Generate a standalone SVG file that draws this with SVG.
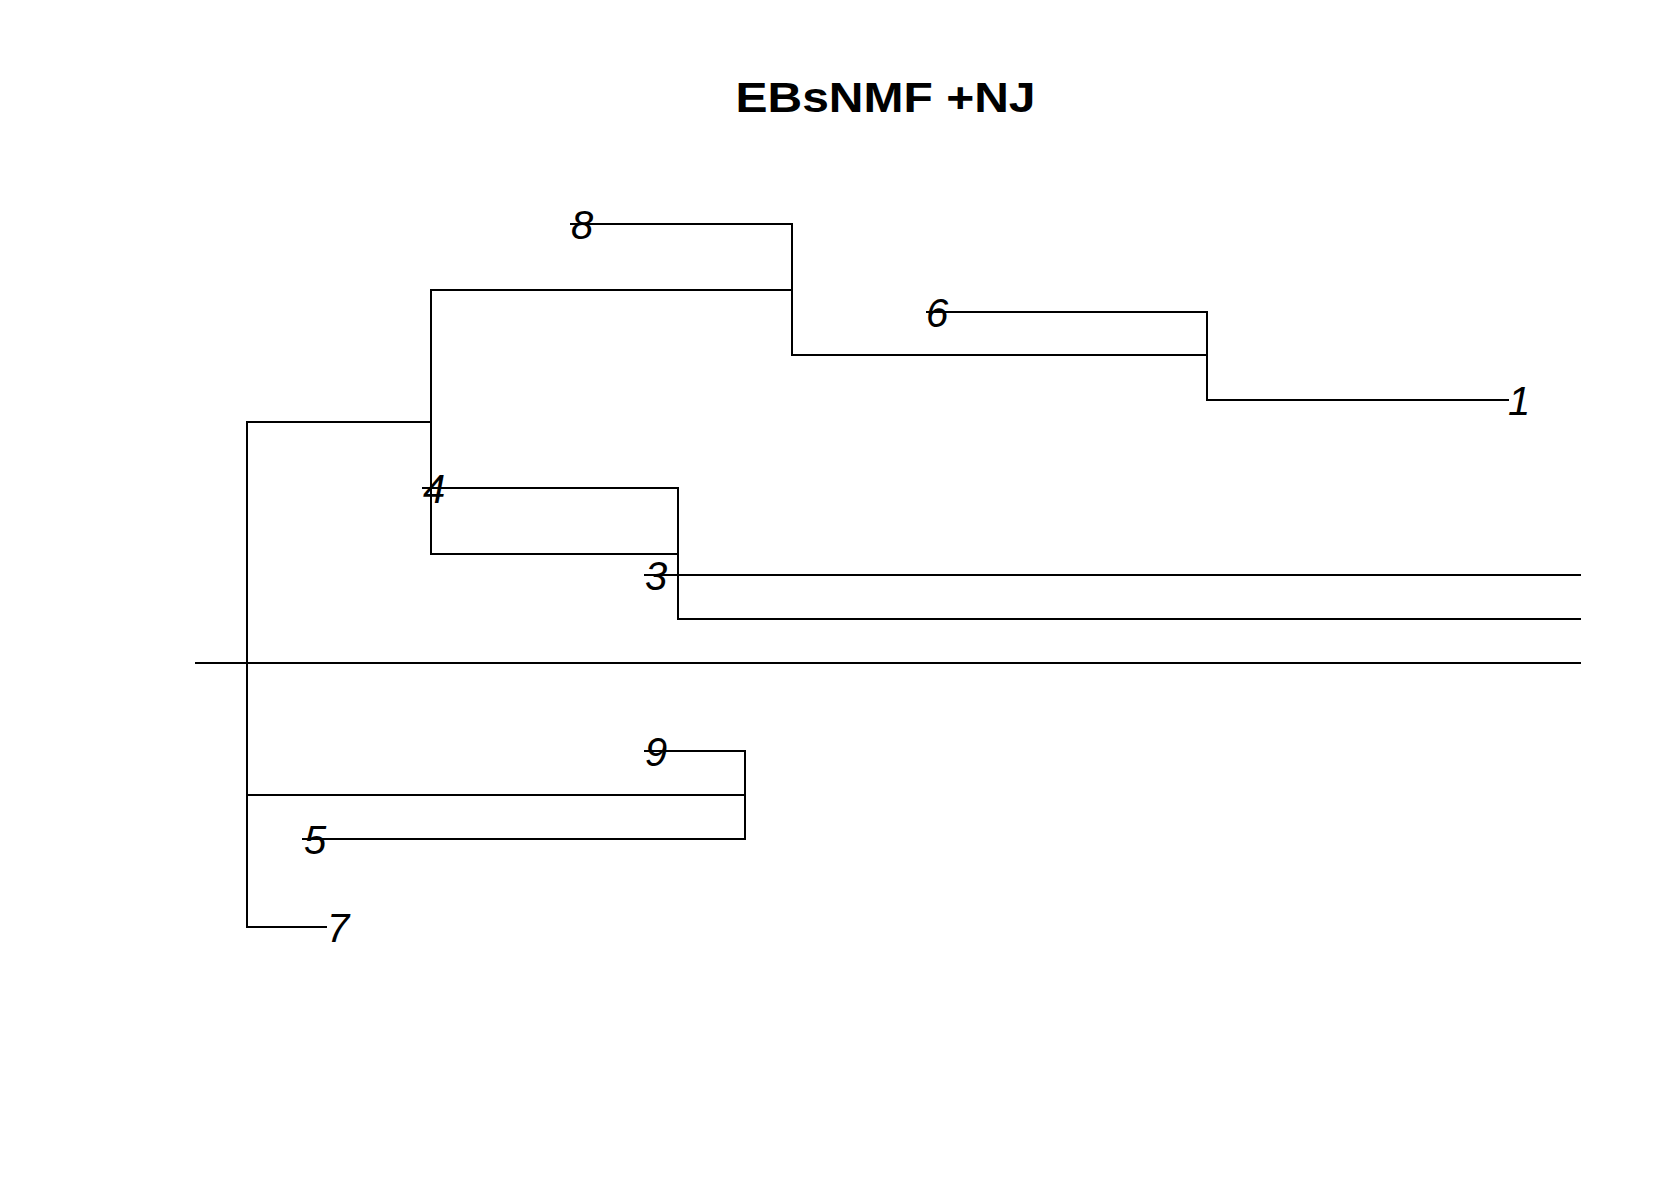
<svg xmlns="http://www.w3.org/2000/svg" width="1680" height="1200" viewBox="0 0 1680 1200">
<style>
.e{stroke:#000;stroke-width:2;fill:none;stroke-linecap:square}
.l{font-family:"Liberation Sans",Arial,sans-serif;font-style:italic;font-size:40px;fill:#000}
.t{font-family:"Liberation Sans",Arial,sans-serif;font-weight:bold;font-size:48px;fill:#000}
</style>
<rect width="1680" height="1200" fill="#fff"/>
<text class="t" transform="translate(885.5,112) scale(1,0.9)" text-anchor="middle">EBsNMF +NJ</text>
<g id="connectors">
<path class="e" d="M247,422 V927"/>
<path class="e" d="M247,422 H431"/>
<path class="e" d="M431,290 V554"/>
<path class="e" d="M431,290 H792"/>
<path class="e" d="M792,224 V355"/>
<path class="e" d="M571,224 H792"/>
<path class="e" d="M792,355 H1207"/>
<path class="e" d="M1207,312 V399"/>
<path class="e" d="M927,312 H1207"/>
<path class="e" d="M1207,400 H1508"/>
<path class="e" d="M423,488 H678"/>
<path class="e" d="M431,554 H678"/>
<path class="e" d="M678,488 V619"/>
<path class="e" d="M645,575 H1580"/>
<path class="e" d="M678,619 H1580"/>
<path class="e" d="M196,663 H1580"/>
<path class="e" d="M247,795 H745"/>
<path class="e" d="M645,751 H745"/>
<path class="e" d="M303,839 H745"/>
<path class="e" d="M745,751 V839"/>
<path class="e" d="M247,927 H326"/>
</g>
<g id="n8"><text class="l" x="571" y="239">8</text></g>
<g id="n6"><text class="l" x="926" y="327">6</text></g>
<g id="n1"><text class="l" x="1508" y="415">1</text></g>
<g id="n4"><text class="l" x="423" y="503">4</text></g>
<g id="n3"><text class="l" x="645" y="590">3</text></g>
<g id="n9"><text class="l" x="645" y="766">9</text></g>
<g id="n5"><text class="l" x="304" y="854">5</text></g>
<g id="n7"><text class="l" x="327" y="942">7</text></g>
</svg>
